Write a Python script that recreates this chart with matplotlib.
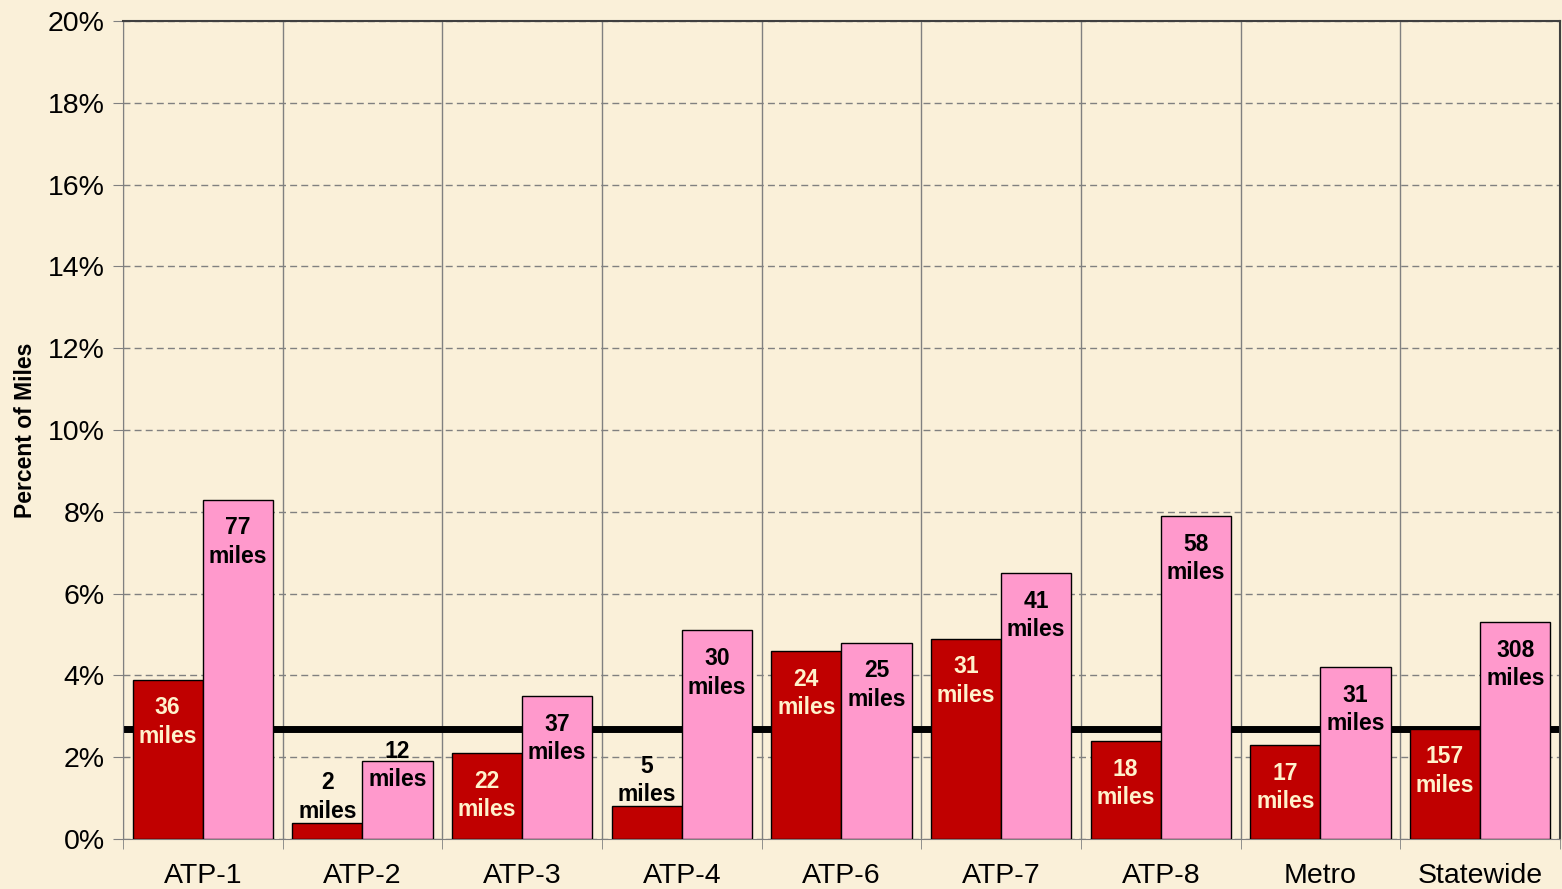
import matplotlib.pyplot as plt
import numpy as np

plt.rcParams['font.family'] = ['Liberation Sans', 'DejaVu Sans']

regions = ["ATP-1", "ATP-2", "ATP-3", "ATP-4", "ATP-6", "ATP-7", "ATP-8", "Metro", "Statewide"]
pct_dark = [3.9, 0.4, 2.1, 0.8, 4.6, 4.9, 2.4, 2.3, 2.7]
pct_pink = [8.3, 1.9, 3.5, 5.1, 4.8, 6.5, 7.9, 4.2, 5.3]
miles_dark = [36, 2, 22, 5, 24, 31, 18, 17, 157]
miles_pink = [77, 12, 37, 30, 25, 41, 58, 31, 308]
reference_line = 2.68

bg = "#faf0d9"
dark_red = "#c00000"
pink = "#ff99cc"

fig = plt.figure(figsize=(15.62, 8.89), dpi=100, facecolor=bg)
ax = fig.add_axes([0.0787, 0.0562, 0.92, 0.9202])
ax.set_facecolor(bg)

x = np.arange(len(regions))
w = 0.44
bars_d = ax.bar(x - w / 2, pct_dark, w, color=dark_red, edgecolor="black", linewidth=1, zorder=3)
bars_p = ax.bar(x + w / 2, pct_pink, w, color=pink, edgecolor="black", linewidth=1, zorder=3)

ax.axhline(reference_line, color="black", linewidth=5, zorder=2)


def label(bars, miles, inside_color):
    for b, m in zip(bars, miles):
        h = b.get_height()
        cx = b.get_x() + b.get_width() / 2
        txt = f"{m}\nmiles"
        kw = dict(textcoords="offset points", ha="center", fontsize=16.5,
                  fontweight="bold", linespacing=1.3, zorder=4)
        if h < 1:
            ax.annotate(txt, (cx, h), xytext=(0, 0), va="bottom", color="black", **kw)
        elif h < 2:
            ax.annotate(txt, (cx, h), xytext=(0, -3), va="center", color="black", **kw)
        else:
            ax.annotate(txt, (cx, h), xytext=(0, -12), va="top", color=inside_color, **kw)


label(bars_d, miles_dark, "#fff2cc")
label(bars_p, miles_pink, "black")

ax.set_xlim(-0.5, len(regions) - 0.5)
ax.set_ylim(0, 20)
ax.set_yticks(np.arange(0, 21, 2))
ax.set_yticklabels([f"{v}%" for v in range(0, 21, 2)], fontsize=20.5)
ax.set_xticks(x)
ax.set_xticklabels(regions, fontsize=20.5)
ax.set_xticks(np.arange(-0.5, len(regions), 1), minor=True)
ax.tick_params(axis="x", which="major", length=0, pad=17)
ax.tick_params(axis="x", which="minor", length=7, color="#808080")
ax.tick_params(axis="y", length=7, color="#808080", pad=6)

ax.yaxis.grid(True, linestyle=(0, (5, 3)), color="#808080", linewidth=1, zorder=1)
ax.xaxis.grid(True, which="minor", linestyle="-", color="#808080", linewidth=1, zorder=1)
ax.set_axisbelow(True)

for s in ["left", "bottom"]:
    ax.spines[s].set_color("#808080")
for s in ["top", "right"]:
    ax.spines[s].set_color("#404040")
    ax.spines[s].set_linewidth(1.5)

ax.set_ylabel("Percent of Miles", fontsize=16.5, fontweight="bold", labelpad=8)

fig.savefig("out.png", dpi=100, facecolor=bg)
